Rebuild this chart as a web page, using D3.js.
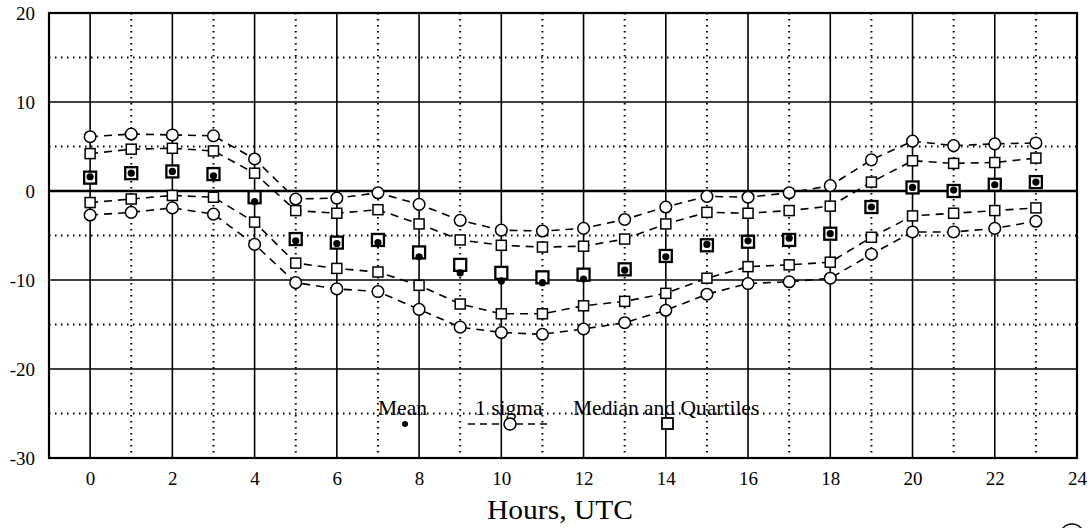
<!DOCTYPE html>
<html><head><meta charset="utf-8">
<script src="https://cdn.jsdelivr.net/npm/d3@7"></script>
<style>html,body{margin:0;padding:0;background:#fff;}svg{display:block;}</style>
</head><body>
<svg id="chart" width="1092" height="528"></svg>
<script>
const hours = [0,1,2,3,4,5,6,7,8,9,10,11,12,13,14,15,16,17,18,19,20,21,22,23];
const meanVals   = [1.6,2.0,2.2,1.7,-1.2,-5.6,-5.9,-5.8,-7.4,-9.2,-10.1,-10.3,-9.9,-8.9,-7.4,-6.0,-5.6,-5.3,-4.8,-1.8,0.4,0.1,0.7,1.0];
const medianVals = [1.5,2.0,2.2,1.9,-0.7,-5.4,-5.8,-5.5,-6.9,-8.3,-9.2,-9.7,-9.4,-8.8,-7.3,-6.1,-5.7,-5.5,-4.8,-1.8,0.4,0.0,0.7,1.0];
const upperQuartile = [4.2,4.7,4.8,4.5,2.0,-2.2,-2.5,-2.1,-3.7,-5.5,-6.1,-6.3,-6.2,-5.4,-3.7,-2.4,-2.5,-2.2,-1.7,1.0,3.4,3.1,3.2,3.7];
const lowerQuartile = [-1.3,-0.9,-0.5,-0.7,-3.5,-8.1,-8.7,-9.1,-10.6,-12.7,-13.8,-13.8,-12.9,-12.4,-11.5,-9.8,-8.5,-8.3,-8.0,-5.2,-2.8,-2.5,-2.2,-1.9];
const upperSigma = [6.1,6.4,6.3,6.2,3.6,-0.9,-0.8,-0.2,-1.5,-3.3,-4.4,-4.5,-4.2,-3.2,-1.8,-0.6,-0.7,-0.2,0.6,3.5,5.6,5.1,5.3,5.4];
const lowerSigma = [-2.7,-2.4,-1.9,-2.6,-6.0,-10.3,-11.0,-11.3,-13.3,-15.3,-15.9,-16.1,-15.5,-14.8,-13.4,-11.6,-10.4,-10.2,-9.8,-7.1,-4.6,-4.6,-4.2,-3.4];
const xTicks = [0,2,4,6,8,10,12,14,16,18,20,22,24];
const yTicks = [20,10,0,-10,-20,-30];
const legendLabels = ["Mean","1 sigma","Median and Quartiles"];
const xTitle = "Hours, UTC";

const svg = d3.select("#chart");
const L = 49, R = 1077, T = 13, B = 458;
const x = d3.scaleLinear().domain([-1,24]).range([L,R]);
const y = d3.scaleLinear().domain([-30,20]).range([B,T]);
const font = "'Liberation Serif','Times New Roman',serif";

const g = svg.append("g");
// grid: dotted
d3.range(1,24,2).forEach(h => {
  g.append("line").attr("x1",x(h)).attr("x2",x(h)).attr("y1",T).attr("y2",B)
   .attr("stroke","#000").attr("stroke-width",2).attr("stroke-dasharray","1.5,4.5");
});
[15,5,-5,-15,-25].forEach(v => {
  g.append("line").attr("x1",L).attr("x2",R).attr("y1",y(v)).attr("y2",y(v))
   .attr("stroke","#000").attr("stroke-width",2).attr("stroke-dasharray","1.5,4.5");
});
// grid: solid
d3.range(0,24,2).forEach(h => {
  g.append("line").attr("x1",x(h)).attr("x2",x(h)).attr("y1",T).attr("y2",B)
   .attr("stroke","#000").attr("stroke-width",1.6);
});
[10,0,-10,-20].forEach(v => {
  g.append("line").attr("x1",L).attr("x2",R).attr("y1",y(v)).attr("y2",y(v))
   .attr("stroke","#000").attr("stroke-width", v===0 ? 2.4 : 1.6);
});
// frame
g.append("rect").attr("x",L).attr("y",T).attr("width",R-L).attr("height",B-T)
 .attr("fill","none").attr("stroke","#000").attr("stroke-width",2.2);

// axes via d3
const fmt = d => String(d);
const xAxis = d3.axisBottom(x).tickValues(xTicks).tickFormat(fmt).tickSize(0).tickPadding(14);
const yAxis = d3.axisLeft(y).tickValues(yTicks).tickFormat(fmt).tickSize(0).tickPadding(14);
const xa = svg.append("g").attr("transform",`translate(0,${B})`).call(xAxis);
const ya = svg.append("g").attr("transform",`translate(${L},0)`).call(yAxis);
[xa,ya].forEach(a => {
  a.select(".domain").remove();
  a.selectAll("text").attr("font-family",font).attr("font-size",19).attr("fill","#000");
});
xa.selectAll("text").attr("dy","0.71em");

svg.append("text").attr("x",487).attr("y",519)
  .attr("font-family",font).attr("font-size",27).attr("textLength",146)
  .attr("lengthAdjust","spacingAndGlyphs").attr("fill","#000").text(xTitle);

// dashed lines
const line = d3.line().x((d,i)=>x(hours[i])).y(d=>y(d));
[upperSigma, upperQuartile, lowerQuartile, lowerSigma].forEach(s => {
  svg.append("path").attr("d",line(s)).attr("fill","none").attr("stroke","#000")
    .attr("stroke-width",1.6).attr("stroke-dasharray","8,6");
});
// sigma circles
[upperSigma, lowerSigma].forEach(s => {
  svg.append("g").selectAll("circle").data(s).join("circle")
    .attr("cx",(d,i)=>x(hours[i])).attr("cy",d=>y(d)).attr("r",5.8)
    .attr("fill","#fff").attr("stroke","#000").attr("stroke-width",1.5);
});
// quartile squares
[upperQuartile, lowerQuartile].forEach(s => {
  svg.append("g").selectAll("rect").data(s).join("rect")
    .attr("x",(d,i)=>x(hours[i])-5).attr("y",d=>y(d)-5).attr("width",10).attr("height",10)
    .attr("fill","#fff").attr("stroke","#000").attr("stroke-width",1.5);
});
// median squares
svg.append("g").selectAll("rect").data(medianVals).join("rect")
  .attr("x",(d,i)=>x(hours[i])-6).attr("y",d=>y(d)-6).attr("width",12).attr("height",12)
  .attr("fill","#fff").attr("stroke","#000").attr("stroke-width",2.3);
// mean dots
svg.append("g").selectAll("circle").data(meanVals).join("circle")
  .attr("cx",(d,i)=>x(hours[i])).attr("cy",d=>y(d)).attr("r",3.6).attr("fill","#000");

// legend
const lg = svg.append("g").attr("font-family",font).attr("font-size",21.5).attr("fill","#000");
const legBase = 415, legMark = 424;
lg.append("text").attr("x",378).attr("y",legBase).text(legendLabels[0]);
lg.append("circle").attr("cx",405).attr("cy",legMark).attr("r",3).attr("fill","#000");
lg.append("text").attr("x",475).attr("y",legBase).text(legendLabels[1]);
lg.append("line").attr("x1",468).attr("x2",550).attr("y1",legMark).attr("y2",legMark)
  .attr("stroke","#000").attr("stroke-width",1.5).attr("stroke-dasharray","7,5");
lg.append("circle").attr("cx",510).attr("cy",legMark).attr("r",6).attr("fill","#fff").attr("stroke","#000").attr("stroke-width",1.5);
lg.append("text").attr("x",573).attr("y",legBase).text(legendLabels[2]);
lg.append("rect").attr("x",662).attr("y",418).attr("width",11).attr("height",11)
  .attr("fill","#fff").attr("stroke","#000").attr("stroke-width",1.8);

// corner artifact (partial circle)
svg.append("circle").attr("cx",1072).attr("cy",536).attr("r",12).attr("fill","none")
  .attr("stroke","#000").attr("stroke-width",1.3);
</script>
</body></html>
